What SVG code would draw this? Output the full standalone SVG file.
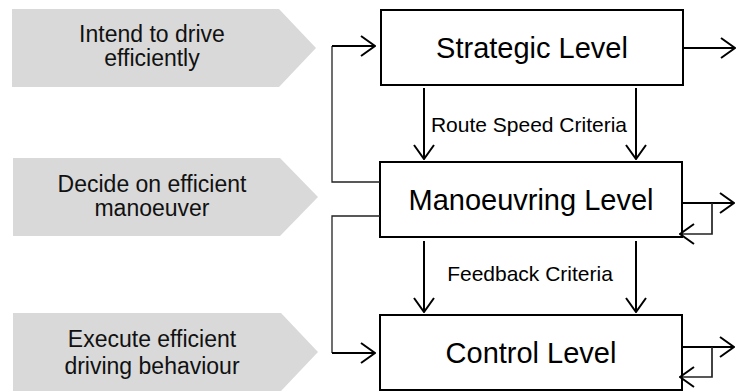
<svg xmlns="http://www.w3.org/2000/svg" width="736" height="391" viewBox="0 0 736 391">
  <style>
    .tag { fill: #d9d9d9; stroke: none; }
    .tag-text { font-family: "Liberation Sans", Arial, sans-serif; font-size: 23px; fill: #111; text-anchor: middle; }
    .box { fill: #fff; stroke: #000; stroke-width: 2; }
    .box-text { font-family: "Liberation Sans", Arial, sans-serif; font-size: 29px; fill: #000; text-anchor: middle; }
    .label { font-family: "Liberation Sans", Arial, sans-serif; font-size: 21px; fill: #000; text-anchor: middle; }
    .wire { fill: none; stroke: #000; stroke-width: 2; }
    .thin { fill: none; stroke: #222; stroke-width: 1.3; }
    .loop { fill: none; stroke: #222; stroke-width: 1.7; }
  </style>
  <defs>
    <marker id="arrow" viewBox="0 0 16 22" refX="15" refY="11" markerWidth="16" markerHeight="22" markerUnits="userSpaceOnUse" orient="auto">
      <path d="M1,1 L15,11 L1,21" fill="none" stroke="#000" stroke-width="2"/>
    </marker>
  </defs>

  <rect width="736" height="391" fill="#fff"/>

  <!-- intent tags on the left -->
  <g id="tag-strategic">
    <polygon class="tag" points="12,9 279,9 316,48 279,87 12,87"/>
    <text class="tag-text" x="152" y="42">Intend to drive</text>
    <text class="tag-text" x="152" y="66">efficiently</text>
  </g>
  <g id="tag-manoeuvring">
    <polygon class="tag" points="13,158 280,158 318,197 280,236 13,236"/>
    <text class="tag-text" x="152" y="192">Decide on efficient</text>
    <text class="tag-text" x="152" y="216">manoeuver</text>
  </g>
  <g id="tag-control">
    <polygon class="tag" points="13,313 281,313 318,352 281,391 13,391"/>
    <text class="tag-text" x="152" y="347">Execute efficient</text>
    <text class="tag-text" x="152" y="374">driving behaviour</text>
  </g>

  <!-- level boxes -->
  <g id="strategic-level">
    <rect class="box" x="381" y="10" width="302" height="75"/>
    <text class="box-text" x="532" y="58">Strategic Level</text>
  </g>
  <g id="manoeuvring-level">
    <rect class="box" x="380" y="162" width="302" height="75"/>
    <text class="box-text" x="531" y="210">Manoeuvring Level</text>
  </g>
  <g id="control-level">
    <rect class="box" x="380" y="315" width="302" height="75"/>
    <text class="box-text" x="531" y="363">Control Level</text>
  </g>

  <!-- connectors -->
  <g id="connectors">
    <!-- left feeds -->
    <path class="thin" d="M380,182 H332 V46"/>
    <path class="wire" d="M332,46 H375" marker-end="url(#arrow)"/>
    <path class="thin" d="M380,216 H332 V353"/>
    <path class="wire" d="M332,353 H375" marker-end="url(#arrow)"/>

    <!-- between levels -->
    <path class="wire" d="M424,88 V159" marker-end="url(#arrow)"/>
    <path class="wire" d="M636,88 V159" marker-end="url(#arrow)"/>
    <path class="wire" d="M424,241 V312" marker-end="url(#arrow)"/>
    <path class="wire" d="M636,241 V312" marker-end="url(#arrow)"/>

    <!-- outputs on the right -->
    <path class="wire" d="M683,48 H735" marker-end="url(#arrow)"/>
    <path class="wire" d="M682,203 H734" marker-end="url(#arrow)"/>
    <path class="loop" d="M712,203 V234 H680" marker-end="url(#arrow)"/>
    <path class="wire" d="M682,347 H734" marker-end="url(#arrow)"/>
    <path class="loop" d="M712,347 V377 H680" marker-end="url(#arrow)"/>

    <text class="label" x="529" y="132">Route Speed Criteria</text>
    <text class="label" x="530" y="281">Feedback Criteria</text>
  </g>
</svg>
